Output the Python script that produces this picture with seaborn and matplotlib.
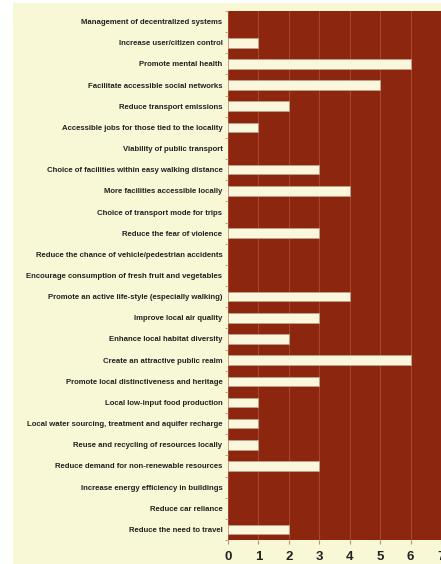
import pandas as pd
import seaborn as sns
import matplotlib.pyplot as plt
from matplotlib.patches import Rectangle

# Categories, top to bottom
objectives = [
    "Management of decentralized systems",
    "Increase user/citizen control",
    "Promote mental health",
    "Facilitate accessible social networks",
    "Reduce transport emissions",
    "Accessible jobs for those tied to the locality",
    "Viability of public transport",
    "Choice of facilities within easy walking distance",
    "More facilities accessible locally",
    "Choice of transport mode for trips",
    "Reduce the fear of violence",
    "Reduce the chance of vehicle/pedestrian accidents",
    "Encourage consumption of fresh fruit and vegetables",
    "Promote an active life-style (especially walking)",
    "Improve local air quality",
    "Enhance local habitat diversity",
    "Create an attractive public realm",
    "Promote local distinctiveness and heritage",
    "Local low-input food production",
    "Local water sourcing, treatment and aquifer recharge",
    "Reuse and recycling of resources locally",
    "Reduce demand for non-renewable resources",
    "Increase energy efficiency in buildings",
    "Reduce car reliance",
    "Reduce the need to travel",
]
counts = [0, 1, 6, 5, 2, 1, 0, 3, 4, 0, 3, 0, 0, 4, 3, 2, 6, 3, 1, 1, 1, 3, 0, 0, 2]
x_ticks = [0, 1, 2, 3, 4, 5, 6, 7]

df = pd.DataFrame({"Objective": objectives, "Count": counts})

beige = "#f8f7d6"
maroon = "#8c260e"
cream = "#fbf7dc"

fig = plt.figure(figsize=(4.41, 5.64), dpi=100)
fig.patch.set_facecolor("white")
# beige panel behind everything (white strip on left/top as in source)
fig.patches.append(Rectangle((13 / 441, 0), 1, 1 - 3 / 564, transform=fig.transFigure,
                             facecolor=beige, edgecolor="none", zorder=-1))

ax = fig.add_axes([228 / 441, 1 - 540 / 564, 1 - 228 / 441, (540 - 11) / 564])
ax.set_facecolor(maroon)

sns.barplot(data=df, y="Objective", x="Count", orient="h", color=cream,
            width=0.45, edgecolor="#b8a890", linewidth=0.5, saturation=1, ax=ax)
# no outline on empty bars
for p in ax.patches:
    if p.get_width() == 0:
        p.set_linewidth(0)

ax.set_xlim(0, 7)
ax.set_ylim(len(objectives) - 0.5, -0.5)
ax.set_xticks(x_ticks)
ax.set_xticklabels([str(t) for t in x_ticks], fontsize=9.5, fontweight="bold",
                   family="Liberation Sans", color="#222222")
ax.set_yticks(range(len(objectives)))
ax.set_yticklabels(objectives, fontsize=5.6, fontweight="bold",
                   family="Liberation Sans", color="#222222")
ax.tick_params(axis="y", length=0, pad=4)
ax.tick_params(axis="x", length=3, color="#c09070", pad=5)
# boundary ticks between categories
ax.set_yticks([i + 0.5 for i in range(-1, len(objectives))], minor=True)
ax.tick_params(axis="y", which="minor", length=2, color="#c09070")

ax.set_axisbelow(True)
ax.xaxis.grid(True, color="#a8452c", linewidth=0.8)
ax.yaxis.grid(False)
ax.set_xlabel("")
ax.set_ylabel("")
for s in ax.spines.values():
    s.set_visible(False)

fig.savefig("out.png", dpi=100, facecolor=fig.get_facecolor())
